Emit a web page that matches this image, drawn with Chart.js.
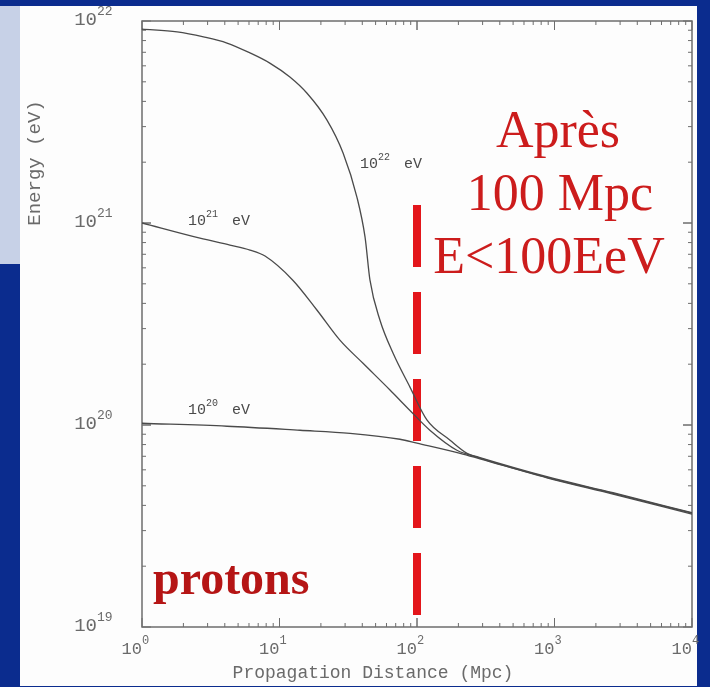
<!DOCTYPE html>
<html lang="fr">
<head>
<meta charset="UTF-8">
<title>Propagation des protons</title>
<script src="https://cdn.jsdelivr.net/npm/chart.js"></script>
<style>
* { margin: 0; padding: 0; box-sizing: border-box; }
body {
    width: 710px;
    height: 687px;
    background: #0b2c8e;
    position: relative;
    overflow: hidden;
}
.strip {
    position: absolute;
    left: 0; top: 6px;
    width: 20px; height: 258px;
    background: #c7d1e7;
}
.panel {
    position: absolute;
    left: 20px; top: 6px;
    width: 677px; height: 680px;
    background: #fdfdfd;
}
#chart {
    position: absolute;
    left: 0; top: 0;
}
</style>
</head>
<body>
<div class="strip"></div>
<div class="panel"></div>
<canvas id="chart" width="710" height="687"></canvas>

<script>
// distances in Mpc, energies in eV
const dist22   = [1, 1.8, 2.8, 4.15, 6.1, 8.5, 11.9, 15.8, 22.1, 29, 36.6, 41.9, 45.5, 53.8, 66.9, 88.9, 118, 174, 231, 287, 881, 2663, 10000];
const energy22 = [9.12e21, 8.83e21, 8.34e21, 7.78e21, 6.95e21, 6.19e21, 5.28e21, 4.40e21, 3.24e21, 2.22e21, 1.34e21, 8.51e20, 5.21e20, 3.30e20, 2.27e20, 1.54e20, 1.06e20, 8.41e19, 7.24e19, 6.86e19, 5.51e19, 4.59e19, 3.66e19];

const dist21   = [1, 2.64, 4.36, 6.1, 7.85, 12.5, 18.7, 27.5, 40.5, 63.6, 88.9, 124, 195, 287, 881, 2663, 10000];
const energy21 = [1.0e21, 8.41e20, 7.78e20, 7.35e20, 6.86e20, 5.21e20, 3.71e20, 2.63e20, 2.02e20, 1.49e20, 1.18e20, 9.42e19, 7.50e19, 6.90e19, 5.55e19, 4.62e19, 3.68e19];

const dist20   = [1, 4.15, 14.1, 32.6, 75.2, 100, 206, 287, 881, 2663, 10000];
const energy20 = [1.02e20, 9.86e19, 9.42e19, 9.1e19, 8.5e19, 8.13e19, 7.24e19, 6.80e19, 5.48e19, 4.55e19, 3.62e19];

// vertical 100 Mpc marker
const cutDist   = [100, 100];
const cutEnergy = [1.227e21, 1.14e19];

const xExponents = [0, 1, 2, 3, 4];
const yExponents = [19, 20, 21, 22];

// curve labels: exponent and anchor (distance, energy)
const curveLabels = [
    { exp: '22', d: 38.5, e: 1.87e21 },
    { exp: '21', d: 2.16, e: 9.77e20 },
    { exp: '20', d: 2.16, e: 1.14e20 }
];

const redLines = ['Après', '100 Mpc', 'E<100EeV'];

function pts(xs, ys) {
    return xs.map((x, i) => ({ x: x, y: ys[i] }));
}

const curveStyle = {
    borderColor: '#4a4a4a',
    borderWidth: 1.3,
    pointRadius: 0,
    cubicInterpolationMode: 'monotone',
    fill: false
};

// frame, ticks and all the text
const decorPlugin = {
    id: 'decor',
    beforeDatasetsDraw(chart) {
        const ctx = chart.ctx;
        const a = chart.chartArea;
        const xs = chart.scales.x, ys = chart.scales.y;
        ctx.save();
        ctx.strokeStyle = '#6d6d6d';
        ctx.lineWidth = 1.5;
        ctx.strokeRect(a.left, a.top, a.right - a.left, a.bottom - a.top);

        ctx.lineWidth = 1;
        // x ticks, bottom and top
        for (let k = 0; k < 4; k++) {
            for (let m = 1; m <= 10; m++) {
                const px = xs.getPixelForValue(m * Math.pow(10, k));
                const len = (m === 1 || m === 10) ? 9 : 4;
                ctx.beginPath();
                ctx.moveTo(px, a.bottom); ctx.lineTo(px, a.bottom - len);
                ctx.moveTo(px, a.top); ctx.lineTo(px, a.top + len);
                ctx.stroke();
            }
        }
        // y ticks, left and right
        for (let k = 19; k < 22; k++) {
            for (let m = 1; m <= 10; m++) {
                const py = ys.getPixelForValue(m * Math.pow(10, k));
                const len = (m === 1 || m === 10) ? 9 : 4;
                ctx.beginPath();
                ctx.moveTo(a.left, py); ctx.lineTo(a.left + len, py);
                ctx.moveTo(a.right, py); ctx.lineTo(a.right - len, py);
                ctx.stroke();
            }
        }
        ctx.restore();
    },
    afterDraw(chart) {
        const ctx = chart.ctx;
        const a = chart.chartArea;
        const xs = chart.scales.x, ys = chart.scales.y;
        ctx.save();
        ctx.fillStyle = '#6a6a6a';
        ctx.textBaseline = 'alphabetic';

        // x tick labels
        xExponents.forEach(e => {
            const px = xs.getPixelForValue(Math.pow(10, e));
            ctx.font = '17px "Liberation Mono", monospace';
            ctx.textAlign = 'right';
            ctx.fillText('10', px, a.bottom + 27);
            ctx.font = '12px "Liberation Mono", monospace';
            ctx.textAlign = 'left';
            ctx.fillText(String(e), px, a.bottom + 17);
        });

        // y tick labels
        yExponents.forEach(e => {
            const py = ys.getPixelForValue(Math.pow(10, e));
            ctx.font = '19px "Liberation Mono", monospace';
            ctx.textAlign = 'right';
            ctx.fillText('10', 97, py + 4);
            ctx.font = '13px "Liberation Mono", monospace';
            ctx.textAlign = 'left';
            ctx.fillText(String(e), 97, py - 6);
        });

        // axis titles
        ctx.font = '18px "Liberation Mono", monospace';
        ctx.textAlign = 'center';
        ctx.fillText('Propagation Distance (Mpc)', 373, 678);
        ctx.save();
        ctx.translate(40, 163);
        ctx.rotate(-Math.PI / 2);
        ctx.font = '19px "Liberation Mono", monospace';
        ctx.fillText('Energy (eV)', 0, 0);
        ctx.restore();

        // curve labels
        ctx.fillStyle = '#4a4a4a';
        curveLabels.forEach(l => {
            const px = xs.getPixelForValue(l.d);
            const py = ys.getPixelForValue(l.e);
            ctx.textAlign = 'left';
            ctx.font = '15px "Liberation Mono", monospace';
            ctx.fillText('10', px, py);
            ctx.font = '10px "Liberation Mono", monospace';
            ctx.fillText(l.exp, px + 18, py - 8);
            ctx.font = '15px "Liberation Mono", monospace';
            ctx.fillText('eV', px + 44, py);
        });

        // red annotations
        ctx.fillStyle = '#cc1c1c';
        ctx.textAlign = 'center';
        ctx.font = '52px "Liberation Serif", "Times New Roman", serif';
        ctx.fillText(redLines[0], 558, 147);
        ctx.fillText(redLines[1], 560, 210);
        ctx.fillText(redLines[2], 549, 273);

        ctx.fillStyle = '#b51515';
        ctx.textAlign = 'left';
        ctx.font = 'bold 48px "Liberation Serif", "Times New Roman", serif';
        ctx.fillText('protons', 153, 594);
        ctx.restore();
    }
};

new Chart(document.getElementById('chart'), {
    type: 'line',
    data: {
        datasets: [
            Object.assign({ label: '1e22 eV', data: pts(dist22, energy22) }, curveStyle),
            Object.assign({ label: '1e21 eV', data: pts(dist21, energy21) }, curveStyle),
            Object.assign({ label: '1e20 eV', data: pts(dist20, energy20) }, curveStyle),
            {
                label: '100 Mpc',
                data: pts(cutDist, cutEnergy),
                borderColor: '#e3161b',
                borderWidth: 8,
                borderDash: [62, 25],
                borderCapStyle: 'butt',
                pointRadius: 0,
                tension: 0
            }
        ]
    },
    options: {
        responsive: false,
        animation: false,
        devicePixelRatio: 1,
        layout: { padding: { left: 142, top: 21, right: 18, bottom: 60 } },
        plugins: { legend: { display: false }, tooltip: { enabled: false } },
        scales: {
            x: {
                type: 'logarithmic',
                min: 1,
                max: 10000,
                grid: { display: false },
                border: { display: false },
                ticks: { display: false },
                afterFit(scale) { scale.height = 0; }
            },
            y: {
                type: 'logarithmic',
                min: 1e19,
                max: 1e22,
                grid: { display: false },
                border: { display: false },
                ticks: { display: false },
                afterFit(scale) { scale.width = 0; }
            }
        }
    },
    plugins: [decorPlugin]
});
</script>
</body>
</html>
